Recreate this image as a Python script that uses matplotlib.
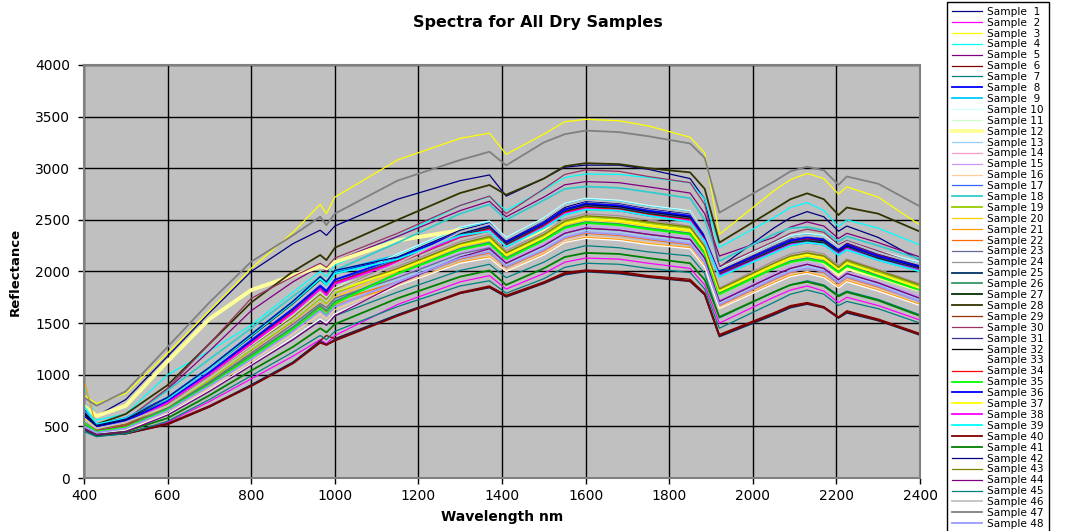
"""
Spectra for all dry samples: 48 reflectance curves, 400-2400 nm.
"""

import matplotlib
matplotlib.use('Agg')
import matplotlib.pyplot as plt

# ── Data ──

WAVELENGTH = [400, 430, 500, 600, 700, 800, 900, 965, 980, 1000, 1150, 1300, 1370, 1410, 1500,
              1550, 1600, 1680, 1750, 1850, 1885, 1920, 2050, 2090, 2130, 2170, 2205, 2225, 2300, 2400]

s01 = [720, 600, 760, 1180, 1600, 2000, 2270, 2400, 2350, 2440, 2700, 2880, 2935, 2730, 2900, 3010, 3030, 3030, 2990, 2900, 2700, 2040, 2420, 2520, 2580, 2530, 2390, 2440, 2330, 2110]
s02 = [460, 410, 430, 540, 740, 960, 1180, 1340, 1300, 1380, 1680, 1900, 1960, 1830, 1980, 2090, 2130, 2120, 2080, 2030, 1870, 1500, 1750, 1820, 1860, 1810, 1700, 1750, 1670, 1530]
s03 = [800, 720, 820, 1210, 1620, 2030, 2380, 2650, 2560, 2720, 3080, 3290, 3340, 3135, 3330, 3450, 3474, 3460, 3410, 3300, 3150, 2360, 2780, 2890, 2950, 2900, 2750, 2820, 2720, 2450]
s04 = [900, 560, 620, 1000, 1230, 1480, 1800, 2000, 1950, 2060, 2340, 2640, 2725, 2590, 2790, 2910, 2945, 2940, 2910, 2860, 2700, 2234, 2520, 2620, 2667, 2590, 2434, 2500, 2420, 2257]
s05 = [600, 500, 560, 860, 1230, 1620, 1900, 2050, 2000, 2100, 2340, 2590, 2680, 2530, 2720, 2840, 2871, 2860, 2820, 2760, 2560, 2150, 2330, 2430, 2480, 2440, 2320, 2370, 2280, 2140]
s06 = [500, 430, 440, 530, 700, 900, 1120, 1330, 1380, 1350, 1580, 1800, 1860, 1770, 1900, 1990, 2015, 2000, 1960, 1925, 1790, 1390, 1600, 1670, 1700, 1660, 1560, 1620, 1540, 1400]
s07 = [470, 420, 450, 610, 840, 1090, 1340, 1530, 1480, 1570, 1800, 2010, 2070, 1940, 2090, 2200, 2250, 2230, 2190, 2150, 1980, 1550, 1800, 1870, 1910, 1870, 1770, 1810, 1730, 1580]
s08 = [660, 520, 580, 780, 1070, 1390, 1710, 1950, 1890, 2000, 2120, 2370, 2440, 2280, 2460, 2600, 2650, 2630, 2580, 2530, 2330, 1990, 2230, 2300, 2320, 2300, 2200, 2250, 2150, 2040]
s09 = [620, 500, 560, 780, 1070, 1390, 1710, 1950, 1890, 2000, 2160, 2420, 2480, 2320, 2510, 2650, 2700, 2680, 2630, 2580, 2380, 2020, 2270, 2340, 2360, 2340, 2240, 2300, 2190, 2080]
s10 = [550, 470, 520, 740, 1010, 1310, 1620, 1840, 1790, 1890, 2170, 2430, 2490, 2330, 2520, 2660, 2710, 2690, 2640, 2590, 2380, 2030, 2280, 2350, 2370, 2350, 2250, 2300, 2200, 2090]
s11 = [520, 460, 500, 720, 980, 1280, 1570, 1790, 1740, 1840, 2150, 2410, 2470, 2310, 2500, 2640, 2690, 2670, 2620, 2570, 2370, 2020, 2260, 2330, 2350, 2330, 2230, 2290, 2180, 2070]
s12 = [700, 600, 700, 1130, 1540, 1820, 1960, 2050, 2030, 2090, 2300, 2400, 2420, 2270, 2390, 2480, 2500, 2490, 2440, 2390, 2200, 1800, 2050, 2120, 2150, 2090, 1960, 2030, 1950, 1820]
s13 = [520, 450, 500, 670, 920, 1200, 1480, 1680, 1630, 1730, 1920, 2150, 2210, 2060, 2230, 2350, 2400, 2380, 2340, 2290, 2110, 1690, 1940, 2010, 2050, 2020, 1910, 1970, 1870, 1730]
s14 = [520, 450, 490, 680, 940, 1220, 1500, 1700, 1650, 1750, 2050, 2290, 2360, 2200, 2380, 2510, 2560, 2540, 2500, 2440, 2250, 1840, 2100, 2170, 2200, 2170, 2060, 2120, 2020, 1880]
s15 = [500, 440, 480, 670, 920, 1200, 1470, 1670, 1630, 1720, 1950, 2180, 2240, 2100, 2270, 2390, 2440, 2420, 2380, 2330, 2150, 1720, 1980, 2050, 2090, 2050, 1940, 2000, 1900, 1760]
s16 = [500, 440, 470, 640, 870, 1130, 1400, 1590, 1540, 1630, 1870, 2090, 2150, 2010, 2180, 2300, 2340, 2320, 2280, 2230, 2060, 1650, 1900, 1970, 2000, 1960, 1860, 1920, 1830, 1680]
s17 = [600, 490, 550, 750, 1030, 1340, 1640, 1870, 1820, 1920, 2100, 2340, 2410, 2250, 2440, 2570, 2620, 2600, 2550, 2500, 2310, 1960, 2200, 2270, 2290, 2270, 2170, 2230, 2120, 2020]
s18 = [650, 520, 560, 850, 1150, 1450, 1760, 1950, 1900, 2010, 2280, 2560, 2650, 2500, 2690, 2800, 2823, 2810, 2770, 2710, 2500, 2100, 2360, 2420, 2430, 2400, 2290, 2340, 2250, 2120]
s19 = [540, 460, 510, 690, 950, 1240, 1520, 1740, 1690, 1790, 2020, 2260, 2330, 2180, 2350, 2480, 2530, 2510, 2470, 2420, 2230, 1820, 2070, 2140, 2180, 2150, 2040, 2100, 2000, 1860]
s20 = [520, 450, 500, 680, 930, 1210, 1490, 1700, 1650, 1750, 2000, 2240, 2300, 2150, 2320, 2450, 2500, 2480, 2440, 2390, 2200, 1800, 2050, 2120, 2150, 2120, 2010, 2080, 1980, 1840]
s21 = [950, 480, 510, 650, 900, 1170, 1430, 1630, 1580, 1680, 1860, 2090, 2140, 2000, 2170, 2280, 2330, 2310, 2270, 2230, 2050, 1640, 1890, 1960, 1990, 1950, 1850, 1910, 1820, 1680]
s22 = [560, 460, 510, 660, 910, 1190, 1460, 1660, 1610, 1710, 1900, 2120, 2180, 2040, 2200, 2320, 2370, 2350, 2310, 2260, 2090, 1670, 1920, 1990, 2030, 1990, 1880, 1940, 1850, 1710]
s23 = [540, 460, 510, 680, 930, 1210, 1490, 1690, 1650, 1740, 1940, 2170, 2230, 2080, 2250, 2370, 2420, 2400, 2360, 2310, 2130, 1710, 1960, 2030, 2070, 2030, 1920, 1980, 1890, 1740]
s24 = [600, 490, 540, 730, 1010, 1310, 1610, 1830, 1780, 1880, 2050, 2290, 2360, 2200, 2380, 2510, 2560, 2540, 2500, 2440, 2250, 1840, 2100, 2170, 2200, 2170, 2060, 2120, 2020, 1880]
s25 = [470, 410, 430, 520, 690, 900, 1120, 1320, 1290, 1340, 1580, 1790, 1845, 1755, 1885, 1970, 2000, 1980, 1945, 1905, 1775, 1370, 1580, 1650, 1685, 1650, 1550, 1600, 1525, 1385]
s26 = [520, 450, 490, 670, 920, 1190, 1460, 1670, 1620, 1710, 1980, 2220, 2280, 2130, 2310, 2430, 2480, 2460, 2420, 2370, 2180, 1790, 2030, 2100, 2130, 2100, 2000, 2060, 1960, 1820]
s27 = [560, 470, 530, 740, 1010, 1320, 1620, 1840, 1790, 1890, 2100, 2350, 2420, 2260, 2450, 2580, 2630, 2610, 2560, 2510, 2310, 1970, 2210, 2280, 2300, 2280, 2180, 2240, 2130, 2030]
s28 = [620, 520, 620, 900, 1300, 1700, 2000, 2160, 2110, 2230, 2500, 2760, 2838, 2743, 2900, 3020, 3049, 3040, 3000, 2960, 2800, 2280, 2600, 2700, 2757, 2700, 2547, 2620, 2560, 2386]
s29 = [540, 460, 510, 710, 970, 1260, 1550, 1770, 1720, 1820, 2080, 2330, 2390, 2240, 2420, 2550, 2600, 2590, 2540, 2480, 2290, 1950, 2180, 2250, 2280, 2260, 2160, 2210, 2110, 2000]
s30 = [600, 500, 560, 870, 1300, 1740, 1950, 2080, 2040, 2130, 2370, 2640, 2730, 2560, 2800, 2940, 2984, 2970, 2920, 2860, 2650, 2050, 2290, 2370, 2410, 2380, 2260, 2300, 2200, 2060]
s31 = [580, 480, 530, 740, 1020, 1320, 1620, 1850, 1800, 1900, 2110, 2360, 2430, 2270, 2460, 2590, 2640, 2620, 2570, 2520, 2320, 1980, 2220, 2290, 2310, 2290, 2190, 2240, 2140, 2030]
s32 = [620, 500, 560, 770, 1060, 1370, 1690, 1920, 1870, 1980, 2120, 2370, 2440, 2280, 2470, 2600, 2650, 2630, 2580, 2530, 2330, 1990, 2230, 2300, 2320, 2300, 2200, 2250, 2150, 2040]
s33 = [480, 430, 460, 620, 850, 1100, 1360, 1540, 1500, 1590, 1860, 2080, 2130, 2000, 2160, 2280, 2320, 2300, 2260, 2220, 2040, 1640, 1880, 1950, 1980, 1940, 1840, 1900, 1810, 1670]
s34 = [580, 480, 540, 730, 1010, 1310, 1610, 1830, 1780, 1890, 2100, 2340, 2410, 2250, 2440, 2570, 2620, 2600, 2550, 2500, 2310, 1990, 2230, 2300, 2320, 2310, 2220, 2270, 2160, 2060]
s35 = [540, 450, 490, 660, 900, 1170, 1440, 1640, 1580, 1690, 1980, 2210, 2270, 2120, 2300, 2420, 2470, 2450, 2410, 2360, 2170, 1780, 2030, 2090, 2120, 2090, 1990, 2050, 1950, 1820]
s36 = [600, 490, 550, 740, 1020, 1330, 1640, 1860, 1810, 1920, 2130, 2380, 2450, 2290, 2470, 2600, 2660, 2640, 2590, 2540, 2340, 2000, 2230, 2300, 2330, 2310, 2210, 2260, 2150, 2050]
s37 = [580, 480, 530, 700, 970, 1260, 1540, 1760, 1710, 1810, 2010, 2250, 2310, 2160, 2330, 2460, 2510, 2490, 2450, 2400, 2210, 1810, 2060, 2130, 2160, 2130, 2020, 2080, 1980, 1840]
s38 = [560, 470, 520, 730, 1000, 1300, 1600, 1830, 1770, 1880, 2090, 2340, 2400, 2240, 2430, 2560, 2610, 2590, 2540, 2490, 2300, 1960, 2190, 2260, 2280, 2260, 2170, 2220, 2110, 2010]
s39 = [700, 520, 580, 770, 1060, 1380, 1700, 1930, 1870, 1980, 2120, 2350, 2390, 2240, 2420, 2550, 2600, 2590, 2540, 2480, 2290, 1950, 2180, 2250, 2280, 2260, 2160, 2210, 2110, 2000]
s40 = [480, 420, 430, 520, 690, 890, 1110, 1310, 1290, 1330, 1570, 1790, 1850, 1760, 1890, 1980, 2005, 1990, 1950, 1910, 1780, 1380, 1590, 1660, 1690, 1650, 1555, 1610, 1530, 1390]
s41 = [480, 420, 450, 580, 800, 1040, 1270, 1450, 1410, 1490, 1740, 1950, 2010, 1870, 2030, 2140, 2180, 2170, 2130, 2080, 1920, 1560, 1800, 1870, 1900, 1860, 1760, 1800, 1720, 1570]
s42 = [640, 510, 570, 780, 1070, 1390, 1710, 1950, 1900, 2010, 2140, 2400, 2470, 2300, 2490, 2620, 2680, 2660, 2610, 2560, 2360, 2010, 2250, 2320, 2350, 2320, 2220, 2280, 2170, 2060]
s43 = [560, 470, 520, 710, 980, 1270, 1560, 1780, 1730, 1830, 2030, 2270, 2340, 2180, 2360, 2490, 2540, 2520, 2480, 2430, 2240, 1830, 2080, 2150, 2180, 2150, 2040, 2110, 2010, 1870]
s44 = [480, 420, 450, 610, 840, 1090, 1340, 1520, 1480, 1570, 1880, 2140, 2220, 2080, 2250, 2370, 2420, 2400, 2360, 2310, 2130, 1710, 1960, 2030, 2070, 2030, 1920, 1980, 1890, 1740]
s45 = [450, 400, 430, 550, 760, 990, 1220, 1380, 1340, 1420, 1660, 1860, 1910, 1790, 1930, 2040, 2080, 2070, 2030, 1990, 1830, 1450, 1700, 1780, 1820, 1780, 1670, 1710, 1640, 1500]
s46 = [560, 480, 540, 700, 970, 1260, 1540, 1760, 1710, 1810, 2080, 2380, 2460, 2310, 2500, 2640, 2690, 2670, 2620, 2570, 2370, 2020, 2260, 2330, 2350, 2330, 2230, 2290, 2180, 2070]
s47 = [780, 700, 840, 1270, 1700, 2095, 2350, 2530, 2450, 2560, 2880, 3080, 3160, 3028, 3250, 3330, 3365, 3350, 3310, 3240, 3100, 2570, 2870, 2970, 3015, 2980, 2840, 2920, 2850, 2630]
s48 = [500, 440, 480, 650, 890, 1150, 1420, 1620, 1570, 1660, 1900, 2130, 2190, 2050, 2210, 2330, 2380, 2360, 2320, 2270, 2090, 1680, 1930, 2000, 2030, 2000, 1890, 1950, 1860, 1710]

SPECTRA = [s01, s02, s03, s04, s05, s06, s07, s08, s09, s10, s11, s12,
           s13, s14, s15, s16, s17, s18, s19, s20, s21, s22, s23, s24,
           s25, s26, s27, s28, s29, s30, s31, s32, s33, s34, s35, s36,
           s37, s38, s39, s40, s41, s42, s43, s44, s45, s46, s47, s48]

SAMPLE_LABELS = ['Sample %2d' % i for i in range(1, 49)]

# ── Styles (Excel default series palette) ──
COLORS = ['#000080', '#FF00FF', '#FFFF00', '#00FFFF', '#800080', '#800000', '#008080', '#0000FF',
          '#00CCFF', '#CCFFFF', '#CCFFCC', '#FFFF99', '#99CCFF', '#FF99CC', '#CC99FF', '#FFCC99',
          '#3366FF', '#33CCCC', '#99CC00', '#FFCC00', '#FF9900', '#FF6600', '#666699', '#969696',
          '#003366', '#339966', '#003300', '#333300', '#993300', '#993366', '#333399', '#000000',
          '#FFFFFF', '#FF0000', '#00FF00', '#0000FF', '#FFFF00', '#FF00FF', '#00FFFF', '#800000',
          '#008000', '#000080', '#808000', '#800080', '#008080', '#C0C0C0', '#808080', '#9999FF']

MEDIUM = {8, 9, 18, 19, 25, 26, 27, 28, 35, 36, 37, 38, 39, 40, 41, 46, 47, 48}
THICK = {12}

W, H = 1069, 531
fig = plt.figure(figsize=(W / 100, H / 100), dpi=100)
ax = fig.add_axes([84 / W, 1 - 478 / H, (920 - 84) / W, (478 - 65) / H])
ax.set_facecolor('#C0C0C0')

for i, (spec, col, lab) in enumerate(zip(SPECTRA, COLORS, SAMPLE_LABELS), start=1):
    lw = 2.8 if i in THICK else (1.3 if i in MEDIUM else 0.9)
    ax.plot(WAVELENGTH, spec, color=col, linewidth=lw, label=lab,
            solid_joinstyle='round', zorder=2)

ax.set_xlim(400, 2400)
ax.set_ylim(0, 4000)
ax.set_xticks(range(400, 2401, 200))
ax.set_yticks(range(0, 4001, 500))
ax.set_axisbelow(True)
ax.grid(True, color='black', linewidth=1.0)
for sp in ax.spines.values():
    sp.set_color('#808080')
    sp.set_linewidth(1.5)
ax.tick_params(axis='both', direction='out', length=4, width=1, color='black',
               labelsize=10)
ax.tick_params(axis='y', pad=6)
ax.tick_params(axis='x', pad=4)

ax.set_xlabel('Wavelength nm', fontweight='bold', fontsize=10)
ax.xaxis.set_label_coords(0.5, -0.078)
ax.set_ylabel('Reflectance', fontweight='bold', fontsize=9.5)
ax.yaxis.set_label_coords(-0.074, 0.5)

fig.text(0.503, 1 - 22 / H, 'Spectra for All Dry Samples', ha='center', va='center',
         fontweight='bold', fontsize=11.5)

leg = ax.legend(loc='upper left', bbox_to_anchor=(947 / W, 1 - 2 / H),
                bbox_transform=fig.transFigure, borderaxespad=0, fontsize=7.6,
                handlelength=2.9, handletextpad=0.45, labelspacing=0.085,
                borderpad=0.45, frameon=True, fancybox=False, framealpha=1,
                edgecolor='black')
leg.get_frame().set_linewidth(1.0)

fig.savefig('out.png', dpi=100)
